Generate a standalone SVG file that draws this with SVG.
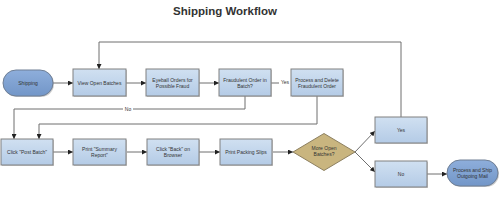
<svg xmlns="http://www.w3.org/2000/svg" width="500" height="200" viewBox="0 0 500 200">
<style>
.box{fill:url(#gb);stroke:#808080;stroke-width:1}
.term{fill:url(#gt);stroke:#6f7f95;stroke-width:1}
.dia{fill:#c9b57f;stroke:#8d8060;stroke-width:1}
.sh{fill:#9a9a9a;opacity:0.5}
.t{font-family:"Liberation Sans",Arial,sans-serif;font-size:5px;fill:#333;text-anchor:middle}
.title{font-family:"Liberation Sans",Arial,sans-serif;font-size:11.5px;font-weight:bold;fill:#333;text-anchor:middle}
.c{fill:none;stroke:#6e6e6e;stroke-width:1}
.a{marker-end:url(#ar)}
</style>
<defs>
<linearGradient id="gb" x1="0" y1="0" x2="0" y2="1"><stop offset="0" stop-color="#d0e0f1"/><stop offset="1" stop-color="#b4cbe6"/></linearGradient>
<linearGradient id="gt" x1="0" y1="0" x2="0" y2="1"><stop offset="0" stop-color="#8eaedb"/><stop offset="1" stop-color="#7296c8"/></linearGradient>
<marker id="ar" viewBox="0 0 6 6" refX="6" refY="3" markerWidth="5" markerHeight="5" orient="auto" markerUnits="userSpaceOnUse"><path d="M0,0 L6,3 L0,6 Z" fill="#222"/></marker>
</defs>
<text class="title" x="225" y="15">Shipping Workflow</text>
<g id="connectors">
<path class="c a" d="M53,83 H73"/>
<path class="c a" d="M126,83 H146"/>
<path class="c a" d="M199,83 H219"/>
<path class="c a" d="M271,83 H291"/>
<rect x="279" y="79" width="12" height="7" fill="#fff"/>
<text class="t" x="285" y="84">Yes</text>
<path class="c a" d="M401,117 V42 H99 V69"/>
<path class="c a" d="M245,96 V109 H14 V139"/>
<rect x="123" y="106" width="10" height="6" fill="#fff"/>
<text class="t" x="128" y="111">No</text>
<path class="c a" d="M317,96 V124 H39 V139"/>
<path class="c a" d="M53,152 H73"/>
<path class="c a" d="M127,152 H147"/>
<path class="c a" d="M199,152 H220"/>
<path class="c a" d="M273,152 H293"/>
<path class="c a" d="M355,152 L375,131"/>
<path class="c a" d="M355,152 L375,172"/>
<path class="c a" d="M427,174 H447"/>
</g>
<g id="n-shipping"><rect class="sh" x="4" y="71" width="50" height="26" rx="13"/><rect class="term" x="3" y="70" width="50" height="26" rx="13"/><text class="t" x="28" y="85">Shipping</text></g>
<g id="n-view"><rect class="sh" x="74" y="70" width="53" height="27"/><rect class="box" x="73" y="69" width="53" height="27"/><text class="t" x="99.5" y="84.5">View Open Batches</text></g>
<g id="n-eyeball"><rect class="sh" x="147" y="70" width="53" height="27"/><rect class="box" x="146" y="69" width="53" height="27"/><text class="t" x="172.5" y="81.5">Eyeball Orders for</text><text class="t" x="172.5" y="87.5">Possible Fraud</text></g>
<g id="n-fraud"><rect class="sh" x="220" y="70" width="52" height="27"/><rect class="box" x="219" y="69" width="52" height="27"/><text class="t" x="245" y="81.5">Fraudulent Order in</text><text class="t" x="245" y="87.5">Batch?</text></g>
<g id="n-delete"><rect class="sh" x="292" y="70" width="52" height="27"/><rect class="box" x="291" y="69" width="52" height="27"/><text class="t" x="317" y="81.5">Process and Delete</text><text class="t" x="317" y="87.5">Fraudulent Order</text></g>
<g id="n-post"><rect class="sh" x="2" y="140" width="52" height="26"/><rect class="box" x="1" y="139" width="52" height="26"/><text class="t" x="27" y="153.5">Click "Post Batch"</text></g>
<g id="n-summary"><rect class="sh" x="74" y="140" width="53" height="26"/><rect class="box" x="73" y="139" width="53" height="26"/><text class="t" x="99.5" y="150.5">Print "Summary</text><text class="t" x="99.5" y="156.5">Report"</text></g>
<g id="n-back"><rect class="sh" x="148" y="140" width="52" height="26"/><rect class="box" x="147" y="139" width="52" height="26"/><text class="t" x="173" y="150.5">Click "Back" on</text><text class="t" x="173" y="156.5">Browser</text></g>
<g id="n-packing"><rect class="sh" x="221" y="140" width="52" height="26"/><rect class="box" x="220" y="139" width="52" height="26"/><text class="t" x="246" y="153.5">Print Packing Slips</text></g>
<g id="n-more"><path class="dia" d="M324,133.5 L355,152 L324,170.5 L293,152 Z"/><text class="t" x="324" y="150">More Open</text><text class="t" x="324" y="156">Batches?</text></g>
<g id="n-yes"><rect class="sh" x="376" y="118" width="52" height="26"/><rect class="box" x="375" y="117" width="52" height="26"/><text class="t" x="401" y="131.5">Yes</text></g>
<g id="n-no"><rect class="sh" x="376" y="162" width="52" height="26"/><rect class="box" x="375" y="161" width="52" height="26"/><text class="t" x="401" y="175.5">No</text></g>
<g id="n-ship"><rect class="sh" x="448" y="161" width="51" height="26" rx="13"/><rect class="term" x="447" y="160" width="51" height="26" rx="13"/><text class="t" x="472.5" y="171.5">Process and Ship</text><text class="t" x="472.5" y="177.5">Outgoing Mail</text></g>
</svg>
